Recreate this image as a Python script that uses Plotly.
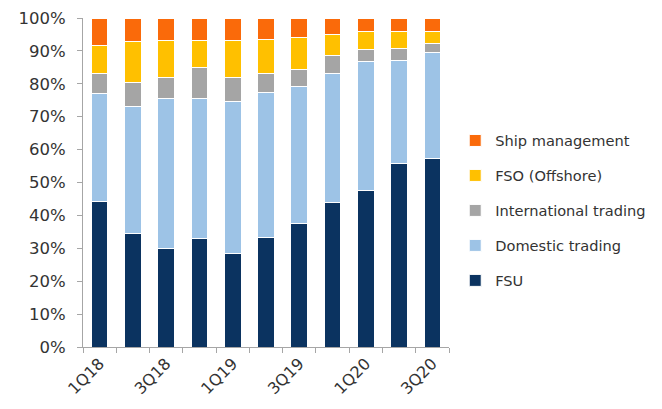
import plotly.graph_objects as go

quarters = ["1Q18", "2Q18", "3Q18", "4Q18", "1Q19", "2Q19", "3Q19", "4Q19", "1Q20", "2Q20", "3Q20"]
tick_labels = ["1Q18", "", "3Q18", "", "1Q19", "", "3Q19", "", "1Q20", "", "3Q20"]

fsu = [44.2, 34.6, 29.8, 33.0, 28.3, 33.3, 37.4, 43.9, 47.5, 55.8, 57.2]
domestic = [32.9, 38.4, 45.6, 42.4, 46.3, 44.1, 41.9, 39.1, 39.4, 31.4, 32.4]
international = [5.9, 7.5, 6.5, 9.6, 7.3, 5.6, 5.1, 5.5, 3.6, 3.6, 2.7]
fso = [8.5, 12.3, 11.4, 8.3, 11.2, 10.5, 9.7, 6.5, 5.5, 5.2, 3.7]
ship = [8.5, 7.2, 6.7, 6.7, 6.9, 6.5, 5.9, 5.0, 4.0, 4.0, 4.0]

series = [
    ("FSU", fsu, "#0B3360"),
    ("Domestic trading", domestic, "#9DC3E6"),
    ("International trading", international, "#A5A5A5"),
    ("FSO (Offshore)", fso, "#FFC000"),
    ("Ship management", ship, "#FA6A0A"),
]

fig = go.Figure()
n = len(series)
for i, (name, vals, color) in enumerate(series):
    fig.add_trace(go.Bar(
        x=quarters, y=vals, name=name, legendgroup=name,
        legendrank=n - i,
        marker=dict(color=color, line=dict(color="white", width=1)),
    ))

font_family = "DejaVu Sans"
fig.update_layout(
    barmode="stack",
    bargap=0.5,
    width=662, height=409,
    margin=dict(l=83, r=213, t=18, b=62, autoexpand=False),
    plot_bgcolor="white", paper_bgcolor="white",
    font=dict(family=font_family, size=16, color="#333333"),
    showlegend=True,
    legend=dict(
        x=1.017, xanchor="left", y=0.415, yanchor="middle",
        traceorder="grouped", tracegroupgap=13,
        font=dict(size=14.6, color="#333333"),
        bgcolor="rgba(0,0,0,0)",
    ),
    xaxis=dict(
        type="category",
        tickmode="array", tickvals=quarters, ticktext=tick_labels,
        tickangle=-45, tickson="boundaries",
        ticks="outside", ticklen=5, tickcolor="#A6A6A6",
        showline=True, linecolor="#A6A6A6", linewidth=1,
        showgrid=False, tickfont=dict(size=16, color="#333333"),
    ),
    yaxis=dict(
        range=[0, 100], dtick=10, ticksuffix="%",
        ticks="outside", ticklen=5, tickcolor="#A6A6A6",
        showline=True, linecolor="#A6A6A6", linewidth=1,
        showgrid=False, zeroline=False,
        ticklabelstandoff=8,
        tickfont=dict(size=16.5, color="#333333"),
    ),
)

fig.write_html("out.html")
